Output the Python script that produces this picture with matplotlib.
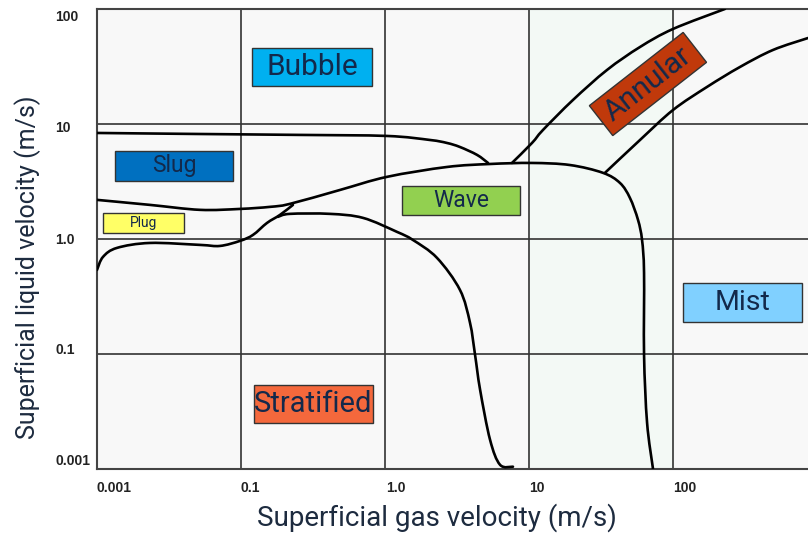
import matplotlib
matplotlib.use("Agg")
import matplotlib.pyplot as plt
import numpy as np
from matplotlib.patches import Rectangle, PathPatch
from matplotlib.path import Path
from matplotlib.transforms import Affine2D

# axis positions are in decades: x 0 -> "0.001", 1 -> "0.1", ... ; same for y
x_tick_labels = ["0.001", "0.1", "1.0", "10", "100"]
y_tick_labels = ["0.001", "0.1", "1.0", "10", "100"]

# boundary curves (decade units)
slug_top_x = [0, 0.716, 1.410, 2.013, 2.311, 2.429, 2.519, 2.638, 2.714]
slug_top_y = [2.924, 2.915, 2.907, 2.898, 2.863, 2.837, 2.802, 2.733, 2.663]

wave_top_x = [0, 0.370, 0.716, 0.994, 1.202, 1.340, 1.687, 2.013, 2.429, 2.728,
              3.019, 3.282, 3.511, 3.629, 3.698, 3.754, 3.782, 3.796, 3.796, 3.817, 3.858]
wave_top_y = [2.342, 2.298, 2.255, 2.263, 2.281, 2.307, 2.428, 2.542, 2.628, 2.654,
              2.663, 2.645, 2.577, 2.489, 2.359, 2.168, 1.993, 1.707, 0.993, 0.402, 0.002]

plug_low_x = [0.002, 0.044, 0.141, 0.370, 0.716, 0.855, 0.994, 1.084, 1.181, 1.271, 1.361]
plug_low_y = [1.732, 1.846, 1.924, 1.967, 1.950, 1.941, 1.985, 2.037, 2.141, 2.211, 2.298]

strat_x = [1.257, 1.340, 1.618, 1.847, 2.083, 2.193, 2.360, 2.519, 2.589, 2.624,
           2.659, 2.728, 2.797, 2.887]
strat_y = [2.194, 2.220, 2.220, 2.185, 2.063, 1.993, 1.837, 1.559, 1.272, 0.993,
           0.689, 0.254, 0.037, 0.020]

annular_up_x = [2.880, 3.019, 3.095, 3.303, 3.539, 3.768, 3.997, 4.357]
annular_up_y = [2.663, 2.837, 2.950, 3.211, 3.472, 3.672, 3.829, 4.003]

annular_low_x = [3.525, 3.768, 3.997, 4.232, 4.461, 4.690, 4.933]
annular_low_y = [2.577, 2.863, 3.124, 3.324, 3.498, 3.646, 3.750]

# region labels
regions = ["Bubble", "Slug", "Plug", "Wave", "Stratified", "Mist", "Annular"]
region_x = [1.493, 0.536, 0.325, 2.526, 1.503, 4.479, 3.823]
region_y = [3.498, 2.637, 2.142, 2.337, 0.568, 1.450, 3.350]
region_colors = ["#00b0f0", "#0070c0", "#ffff66", "#92d050", "#f4683c", "#80d0ff", "#c0390b"]
box_w = [120, 118, 81, 118, 119, 119, 119]
box_h = [38, 30, 20, 29, 38, 39, 38]
box_angle = [0, 0, 0, 0, 0, 0, 38]
font_sz = [21.5, 16.5, 10, 16.5, 21, 20.5, 21.5]


def smooth_path(xs, ys):
    # bezier segments through the read points (catmull-rom tangents)
    p = np.column_stack([xs, ys])
    verts = [p[0]]
    codes = [Path.MOVETO]
    for i in range(len(p) - 1):
        p0 = p[i - 1] if i > 0 else p[i]
        p3 = p[i + 2] if i + 2 < len(p) else p[i + 1]
        c1 = p[i] + (p[i + 1] - p0) / 6
        c2 = p[i + 1] - (p3 - p[i]) / 6
        verts += [c1, c2, p[i + 1]]
        codes += [Path.CURVE4] * 3
    return Path(verts, codes)


fig = plt.figure(figsize=(8.08, 5.33), dpi=100)
ax = fig.add_axes([96.7 / 808, (533 - 469) / 533, (808 - 96.7) / 808, (469 - 9.3) / 533])
ax.set_xlim(0, 4.933)
ax.set_ylim(0, 4)
ax.set_facecolor("#f8f8f8")
ax.axvspan(3, 4, color="#f3f9f5", zorder=0)

for g in [1, 2, 3, 4]:
    ax.axvline(g, color="#333333", lw=1.2, zorder=1)
for g in [1, 2, 3]:
    ax.axhline(g, color="#333333", lw=1.2, zorder=1)

curves = [(slug_top_x, slug_top_y), (wave_top_x, wave_top_y), (plug_low_x, plug_low_y),
          (strat_x, strat_y), (annular_up_x, annular_up_y), (annular_low_x, annular_low_y)]
for cx, cy in curves:
    ax.add_patch(PathPatch(smooth_path(cx, cy), facecolor="none", edgecolor="black",
                           lw=1.9, capstyle="round", joinstyle="round", zorder=3))

fig.canvas.draw()
for name, x, y, c, w, h, a, fs in zip(regions, region_x, region_y, region_colors,
                                      box_w, box_h, box_angle, font_sz):
    px, py = ax.transData.transform((x, y))
    rect = Rectangle((-w / 2, -h / 2), w, h, facecolor=c, edgecolor="#333333", lw=1,
                     transform=Affine2D().rotate_deg(a).translate(px, py), zorder=5)
    ax.add_patch(rect)
    ax.text(x, y, name, ha="center", va="center", rotation=a, rotation_mode="anchor",
            fontsize=fs, color="#13294b", family=["Roboto", "DejaVu Sans"], zorder=6)

ax.set_xticks([0, 1, 2.01, 3, 4])
ax.set_xticklabels(x_tick_labels, ha="left", fontweight="bold", fontsize=10,
                   family=["Liberation Sans"], color="#222222")
ax.set_yticks([0.08, 1.045, 2.01, 2.977, 3.95])
ax.set_yticklabels(y_tick_labels, ha="left", fontweight="bold", fontsize=10,
                   family=["Liberation Sans"], color="#222222")
ax.tick_params(axis="x", length=0, pad=9)
ax.tick_params(axis="y", length=0, pad=30)

for s in ["top", "left", "bottom"]:
    ax.spines[s].set_color("#444444")
    ax.spines[s].set_linewidth(1.5)
ax.spines["right"].set_visible(False)

fig.text(437 / 808, 1 - 518 / 533, "Superficial gas velocity (m/s)", ha="center", va="center",
         fontsize=20, color="#1d2b3f", family=["Roboto", "DejaVu Sans"])
fig.text(28 / 808, 1 - 267 / 533, "Superficial liquid velocity (m/s)", ha="center", va="center",
         rotation=90, fontsize=18, color="#1d2b3f", family=["Roboto", "DejaVu Sans"])

fig.savefig("out.png", dpi=100)
